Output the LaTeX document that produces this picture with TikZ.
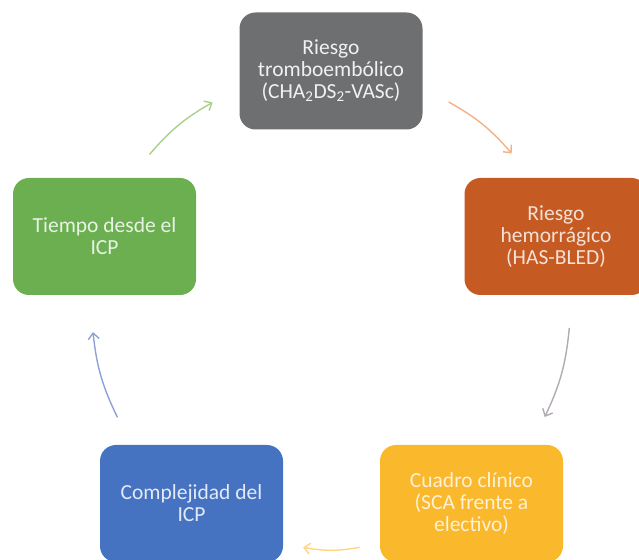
\documentclass[tikz,border=0pt]{standalone}
\usepackage{fontspec}
\setmainfont{Carlito}
\usetikzlibrary{arrows.meta}

\definecolor{grisT}{HTML}{6D6F71}
\definecolor{naranjaH}{HTML}{C55A22}
\definecolor{amarilloC}{HTML}{FAB82C}
\definecolor{azulI}{HTML}{4672C2}
\definecolor{verdeT}{HTML}{6BAF50}

\begin{document}
\begin{tikzpicture}[x=1pt,y=1pt,>={Straight Barb[length=6pt,width=11pt]},
  box/.style={rectangle,rounded corners=16pt,minimum width=183pt,minimum height=117pt,
    inner sep=0pt,align=center,font=\fontsize{21.5}{22}\selectfont},
  flow/.style={->,line width=1.4pt,bend left=10}]
\clip (0,0) rectangle (639,559);

\node[box,fill=grisT,text=white!90!grisT] (tromb) at (331,488) {Riesgo\\tromboembólico\\(CHA\textsubscript{2}DS\textsubscript{2}-VASc)};
\node[box,fill=naranjaH,text=white!82!naranjaH] (hemorr) at (556,322.5) {Riesgo\\hemorrágico\\(HAS-BLED)};
\node[box,fill=amarilloC,text=white!80!amarilloC] (cuadro) at (471.5,55.5) {Cuadro clínico\\(SCA frente a\\electivo)};
\node[box,fill=azulI,text=white!85!azulI] (complej) at (191.5,55.5) {Complejidad del\\ICP};
\node[box,fill=verdeT,text=white!85!verdeT] (tiempo) at (104.5,322.5) {Tiempo desde el\\ICP};

\coordinate (g1) at (149.5,404.5);
\coordinate (g2) at (212.6,456.6);
\coordinate (o1) at (448.7,457);
\coordinate (o2) at (511.7,405.5);
\coordinate (r1) at (569.3,231.1);
\coordinate (r2) at (544.7,142);
\coordinate (y1) at (359.7,11.7);
\coordinate (y2) at (303.1,11.6);
\coordinate (b1) at (117.5,141.6);
\coordinate (b2) at (93,226.9);

\draw[flow,color={rgb,255:red,169;green,209;blue,142}] (g1) to (g2);
\draw[flow,color={rgb,255:red,244;green,177;blue,131}] (o1) to (o2);
\draw[flow,color={rgb,255:red,178;green,170;blue,180}] (r1) to (r2);
\draw[flow,color={rgb,255:red,255;green,213;blue,128}] (y1) to (y2);
\draw[flow,color={rgb,255:red,143;green,160;blue,216}] (b1) to (b2);
\end{tikzpicture}
\end{document}
